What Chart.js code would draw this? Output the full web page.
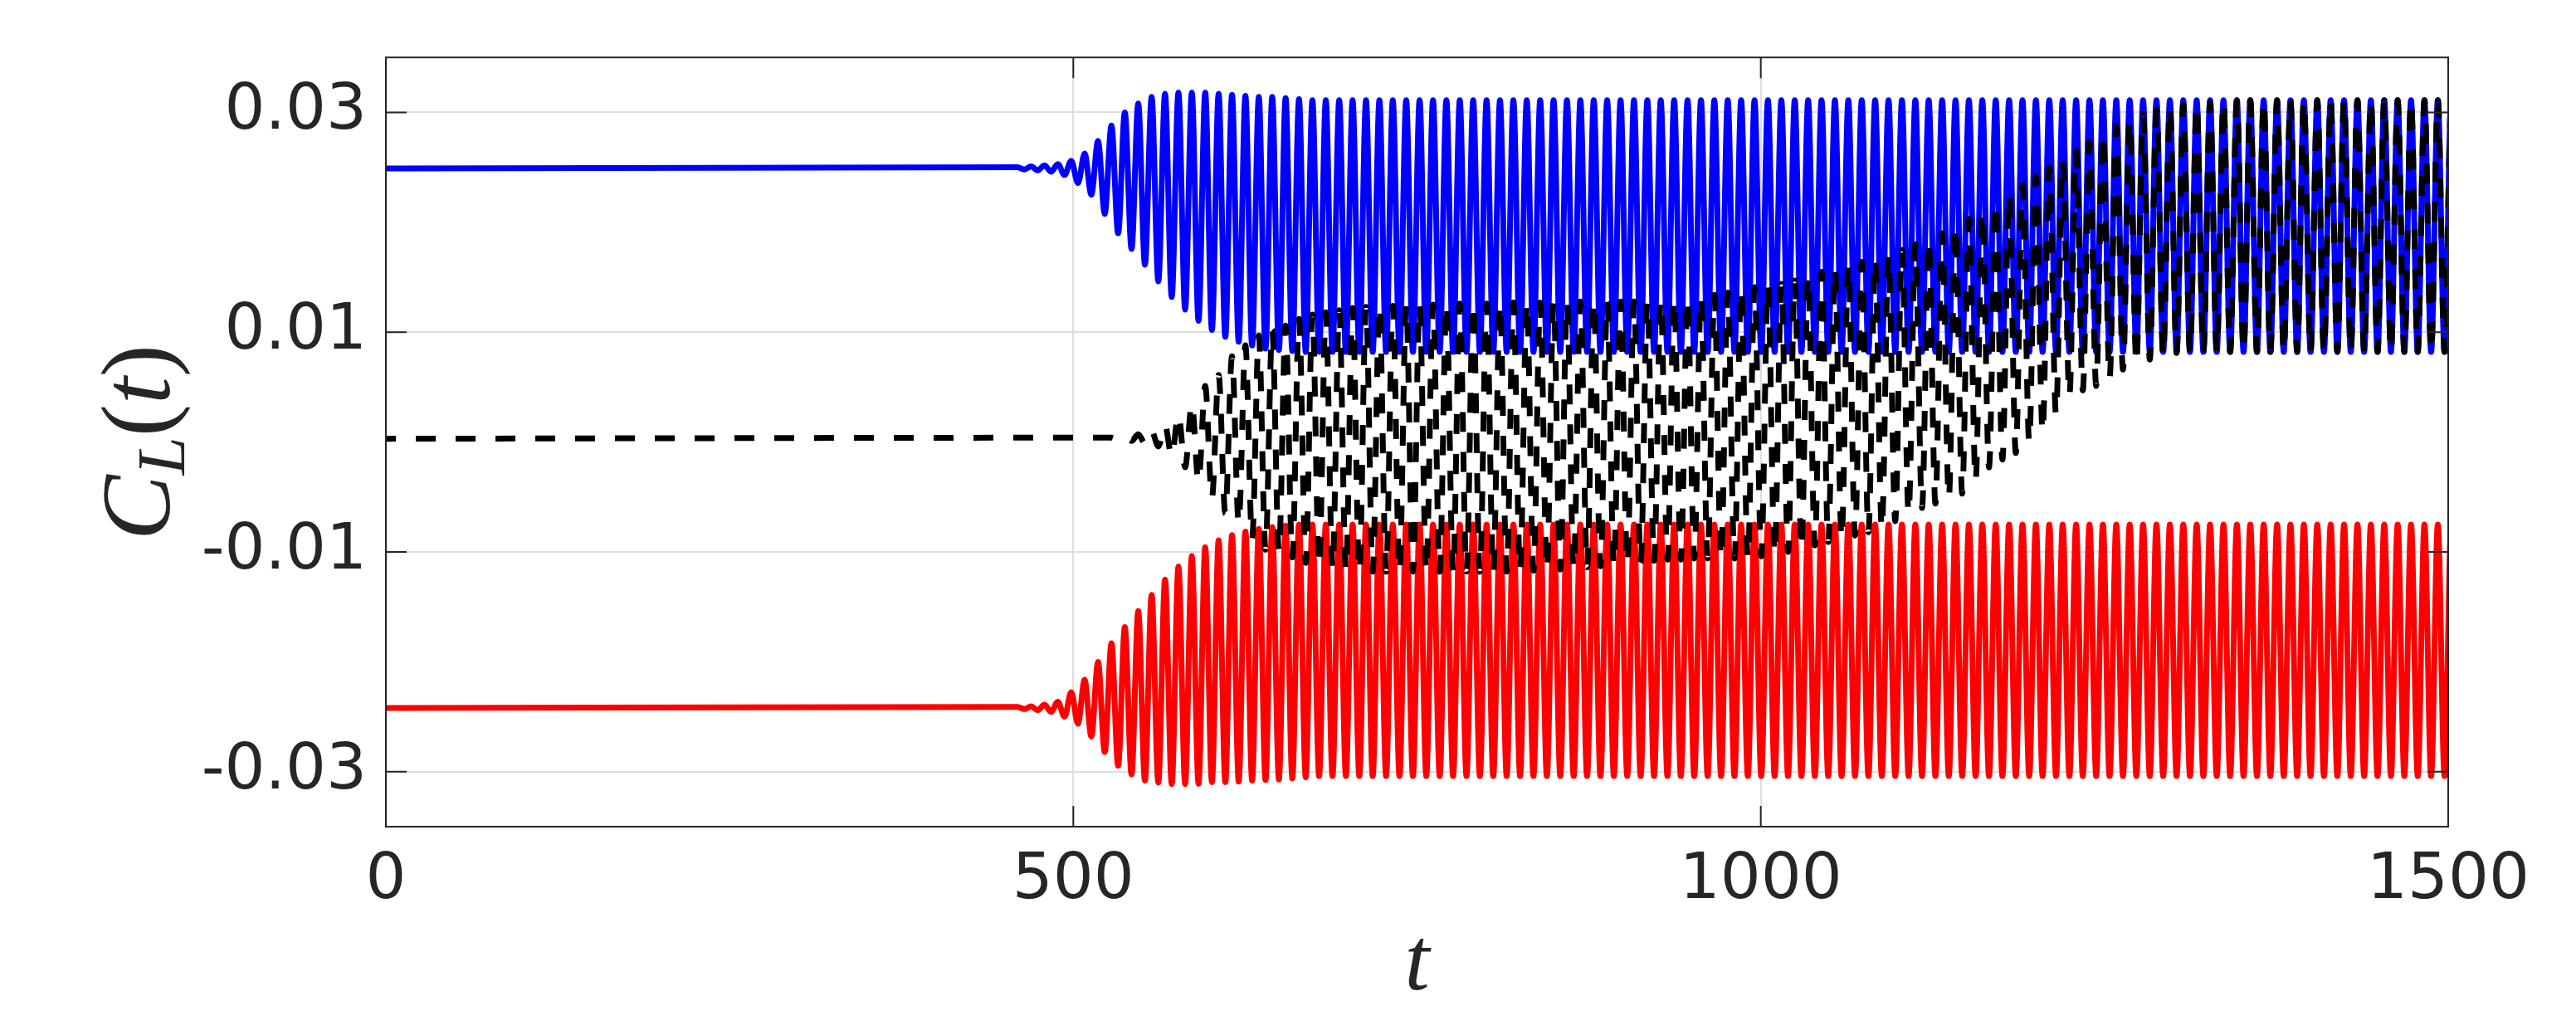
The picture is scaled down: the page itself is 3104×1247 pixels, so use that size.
<!DOCTYPE html>
<html>
<head>
<meta charset="utf-8">
<title>C_L(t)</title>
<script src="https://cdn.jsdelivr.net/npm/chart.js@4.4.1/dist/chart.umd.min.js"></script>
<style>
  html, body { margin: 0; padding: 0; background: #fff; overflow: hidden; }
  canvas { display: block; }
</style>
</head>
<body>
<canvas id="liftChart" width="3104" height="1247"></canvas>
<script>
// axis ticks
const xTicks = [0, 500, 1000, 1500];
const yTicks = [-0.03, -0.01, 0.01, 0.03];

// shared time grid of the oscillation: crest i sits at firstCrest + i*period,
// the trough after it half a period later
const period = 9.745;
const firstCrest = 459.5;
const tEnd = 1500;

// blue trace (upper)
const blueFlat = 0.0249;
const blueCrests = [0.0250, 0.02508, 0.02518, 0.0253, 0.0256, 0.02625, 0.0274, 0.0288, 0.0300, 0.0308,
                    0.0314, 0.0317, 0.0318, 0.0318, 0.0318, 0.0317, 0.0316, 0.0315, 0.0314, 0.0314,
                    0.0313, 0.0312];
const blueTroughs = [0.0248, 0.02472, 0.0246, 0.0243, 0.02356, 0.02251, 0.02076, 0.0190, 0.01757, 0.01614,
                     0.01462, 0.0132, 0.01205, 0.01103, 0.0102, 0.00957, 0.00912, 0.00878, 0.0085, 0.00838,
                     0.00828, 0.0082];
const blueCrestLate = 0.0311;
const blueTroughLate = 0.0082;

// red trace (lower)
const redFlat = -0.0242;
const redCrests = [-0.0241, -0.02405, -0.0239, -0.02363, -0.02276, -0.02163, -0.02001, -0.01831, -0.01684, -0.01539,
                   -0.0139, -0.01252, -0.01132, -0.01035, -0.00957, -0.00895, -0.00848, -0.00815, -0.0079, -0.00773,
                   -0.0076, -0.0075];
const redTroughs = [-0.0243, -0.0244, -0.02455, -0.0250, -0.02563, -0.0268, -0.0282, -0.02945, -0.03025, -0.0308,
                    -0.0310, -0.03112, -0.03112, -0.0311, -0.03095, -0.03095, -0.0309, -0.0308, -0.03075, -0.0307,
                    -0.0306, -0.0305];
const redCrestLate = -0.0075;
const redTroughLate = -0.0304;

// black dashed trace (middle), starts moving at crest index 7
const blackFlat = 0.0003;
const blackFirst = 7;
const blackCrests = [0.0004, 0.0005, 0.0007, 0.0010, 0.0015, 0.0025, 0.0035, 0.0051, 0.0061, 0.0078,
                     0.0088, 0.0097, 0.0102, 0.0106, 0.0112, 0.0116, 0.0118, 0.0120, 0.0122, 0.0123,
                     0.0124, 0.0124, 0.0125, 0.0125, 0.0125, 0.0126, 0.0126, 0.0126, 0.0126, 0.0126,
                     0.0127, 0.0127, 0.0127, 0.0127, 0.0127, 0.0128, 0.0128, 0.0128, 0.0128, 0.0128,
                     0.0128, 0.0129, 0.0130, 0.0131, 0.0132, 0.0134, 0.0136, 0.0139, 0.0141, 0.0142,
                     0.0144, 0.0147, 0.0151, 0.0155, 0.0158, 0.0161, 0.0164, 0.0167, 0.0170, 0.0175,
                     0.0180, 0.0184, 0.0190, 0.0197, 0.0203, 0.0210, 0.0218, 0.0226, 0.0234, 0.0242,
                     0.0250, 0.0257, 0.0265, 0.0273, 0.0281, 0.0287, 0.0293, 0.0298, 0.0302, 0.0305,
                     0.0307, 0.0308, 0.0309, 0.0310];
const blackTroughs = [0.0002, 0.0001, -0.0001, -0.0004, -0.0013, -0.0023, -0.0036, -0.0051, -0.0065, -0.0074,
                      -0.0088, -0.0098, -0.0100, -0.0105, -0.0110, -0.0113, -0.0115, -0.0117, -0.0118, -0.0118,
                      -0.0118, -0.0118, -0.0118, -0.0118, -0.0118, -0.0118, -0.0118, -0.0118, -0.0118, -0.0118,
                      -0.0117, -0.0117, -0.0116, -0.0116, -0.0115, -0.0114, -0.0113, -0.0112, -0.0111, -0.0110,
                      -0.0108, -0.0107, -0.0107, -0.0106, -0.0106, -0.0106, -0.0106, -0.0106, -0.0104, -0.0102,
                      -0.0100, -0.0097, -0.0094, -0.0091, -0.0088, -0.0085, -0.0082, -0.0079, -0.0072, -0.0065,
                      -0.0060, -0.0056, -0.0051, -0.0047, -0.0035, -0.0023, -0.0016, -0.0010, 0.0000, 0.0009,
                      0.0025, 0.0042, 0.0047, 0.0051, 0.0058, 0.0066, 0.0071, 0.0075, 0.0078, 0.0081,
                      0.0082, 0.0082, 0.0082, 0.0082];
const blackCrestLate = 0.0311;
const blackTroughLate = 0.0082;

// crest/trough list -> {x, y} points on the time grid
function buildTrace(flat, first, crests, troughs, crestLate, troughLate) {
  const pts = [{ x: 0, y: flat }];
  for (let i = first; ; i++) {
    const k = i - first;
    const tc = firstCrest + i * period;
    if (tc > tEnd + period) break;
    pts.push({ x: tc, y: k < crests.length ? crests[k] : crestLate });
    pts.push({ x: tc + period / 2, y: k < troughs.length ? troughs[k] : troughLate });
  }
  return pts;
}

const blackPts = buildTrace(blackFlat, blackFirst, blackCrests, blackTroughs, blackCrestLate, blackTroughLate);
const bluePts = buildTrace(blueFlat, 0, blueCrests, blueTroughs, blueCrestLate, blueTroughLate);
const redPts = buildTrace(redFlat, 0, redCrests, redTroughs, redCrestLate, redTroughLate);

const ink = '#262626';
const tickFont = { family: '"DejaVu Sans"', size: 77 };

// box round the plot, inward tick marks, and the C_L(t) label
const frame = {
  id: 'frame',
  afterDraw(chart) {
    const { ctx, chartArea: a, scales: { x, y } } = chart;
    ctx.save();
    ctx.strokeStyle = ink;
    ctx.lineWidth = 2;
    ctx.strokeRect(a.left, a.top, a.right - a.left, a.bottom - a.top);
    const len = 25;
    ctx.beginPath();
    xTicks.forEach(v => {
      const px = x.getPixelForValue(v);
      ctx.moveTo(px, a.bottom); ctx.lineTo(px, a.bottom - len);
      ctx.moveTo(px, a.top); ctx.lineTo(px, a.top + len);
    });
    yTicks.forEach(v => {
      const py = y.getPixelForValue(v);
      ctx.moveTo(a.left, py); ctx.lineTo(a.left + len, py);
      ctx.moveTo(a.right, py); ctx.lineTo(a.right - len, py);
    });
    ctx.stroke();

    const parts = [
      { s: 'C', f: 'italic 118px "Liberation Serif"', dy: 0 },
      { s: 'L', f: 'italic 83px "Liberation Serif"', dy: 18 },
      { s: '(', f: '118px "Liberation Serif"', dy: 0 },
      { s: 't', f: 'italic 118px "Liberation Serif"', dy: 0 },
      { s: ')', f: '118px "Liberation Serif"', dy: 0 }
    ];
    let w = 0;
    parts.forEach(p => { ctx.font = p.f; p.w = ctx.measureText(p.s).width; w += p.w; });
    ctx.translate(204, 533);
    ctx.rotate(-Math.PI / 2);
    ctx.fillStyle = ink;
    ctx.textAlign = 'left';
    ctx.textBaseline = 'alphabetic';
    let cx = -w / 2;
    parts.forEach(p => { ctx.font = p.f; ctx.fillText(p.s, cx, p.dy); cx += p.w; });
    ctx.restore();
  }
};

new Chart(document.getElementById('liftChart'), {
  type: 'line',
  data: {
    datasets: [
      { label: 'black', data: blackPts, borderColor: '#000000', borderWidth: 7,
        borderDash: [24, 24], borderDashOffset: 12, borderCapStyle: 'butt' },
      { label: 'blue', data: bluePts, borderColor: '#0000ff', borderWidth: 7 },
      { label: 'red', data: redPts, borderColor: '#ff0000', borderWidth: 7 }
    ]
  },
  options: {
    responsive: false,
    animation: false,
    devicePixelRatio: 1,
    parsing: false,
    layout: { padding: { top: 59, right: 154, left: 0, bottom: 0 } },
    elements: {
      point: { radius: 0 },
      line: { cubicInterpolationMode: 'monotone', borderJoinStyle: 'round', fill: false }
    },
    plugins: { legend: { display: false }, tooltip: { enabled: false } },
    scales: {
      x: {
        type: 'linear',
        min: 0,
        max: 1500,
        afterFit: s => { s.height = 251; },
        afterBuildTicks: s => { s.ticks = xTicks.map(v => ({ value: v })); },
        ticks: { font: tickFont, color: ink, padding: 20, maxRotation: 0, autoSkip: false,
                 callback: v => String(v) },
        grid: { color: '#dedede', lineWidth: 2, drawTicks: false },
        border: { display: false },
        title: {
          display: true,
          text: 't',
          color: ink,
          font: { family: '"Liberation Serif"', style: 'italic', size: 108 },
          padding: { top: 0, bottom: 19 }
        }
      },
      y: {
        type: 'linear',
        min: -0.035,
        max: 0.035,
        afterFit: s => { s.width = 465; },
        afterBuildTicks: s => { s.ticks = yTicks.map(v => ({ value: v })); },
        ticks: { font: tickFont, color: ink, padding: 23, callback: v => v.toFixed(2) },
        grid: { color: '#dedede', lineWidth: 2, drawTicks: false },
        border: { display: false }
      }
    }
  },
  plugins: [frame]
});
</script>
</body>
</html>
